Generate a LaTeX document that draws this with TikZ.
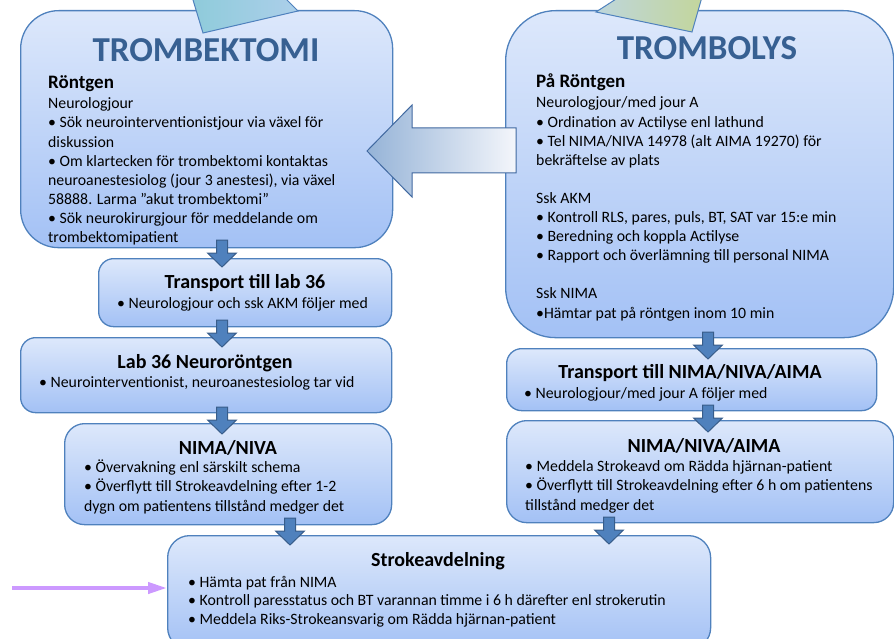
\documentclass[tikz,border=0pt]{standalone}
\usepackage{fontspec}
\setmainfont{Carlito}
\usetikzlibrary{arrows.meta}
\definecolor{boxtop}{RGB}{221,232,251}
\definecolor{boxbot}{RGB}{163,193,245}
\definecolor{boxline}{RGB}{79,129,189}
\definecolor{arrfill}{RGB}{79,129,189}
\definecolor{arrline}{RGB}{56,93,138}
\definecolor{titleblue}{RGB}{55,96,146}
\definecolor{pinkarrow}{RGB}{204,153,255}
\definecolor{bigleft}{RGB}{149,179,215}
\definecolor{bigright}{RGB}{244,246,251}
\definecolor{bigline}{RGB}{65,105,160}
\definecolor{tealA}{RGB}{142,203,218}
\definecolor{tealB}{RGB}{172,207,234}
\definecolor{greenA}{RGB}{190,214,220}
\definecolor{greenB}{RGB}{195,214,155}
\newcommand\bodyfont{\fontsize{15.8}{19.2}\selectfont}
\newcommand\subheadfont{\fontsize{20}{22}\selectfont\bfseries}
\newcommand\headfont{\fontsize{19}{22}\selectfont\bfseries}
\newcommand\bigtitlefont{\fontsize{35}{40}\selectfont\bfseries}
\newcommand\darr[2]{\path[barr] ({#1-5.5},{#2}) -- ({#1+5.5},{#2}) -- ({#1+5.5},{#2+13}) -- ({#1+14.5},{#2+13}) -- ({#1},{#2+27}) -- ({#1-14.5},{#2+13}) -- ({#1-5.5},{#2+13}) -- cycle;}
\tikzset{
  bx/.style={draw=boxline, line width=1.3pt, top color=boxtop, bottom color=boxbot, inner sep=0pt, anchor=north west},
  barr/.style={fill=arrfill, draw=arrline, line width=1pt, line join=miter},
  body/.style={anchor=base west, inner sep=0pt, align=left, font=\bodyfont},
  subhead/.style={anchor=base, inner sep=0pt, font=\subheadfont},
  head/.style={anchor=base west, inner sep=0pt, font=\headfont},
  bigtitle/.style={anchor=base, inner sep=0pt, font=\bigtitlefont, text=titleblue},
}
\begin{document}
\begin{tikzpicture}[x=1pt,y=-1pt]
\useasboundingbox (0,0) rectangle (894,639);
% boxes
\node[bx, rounded corners=38pt, minimum width=372pt, minimum height=237pt] (tbx) at (20,10) {};
\node[bx, rounded corners=50pt, minimum width=388pt, minimum height=327pt] (tlx) at (505,10) {};
\node[bx, rounded corners=15pt, minimum width=293pt, minimum height=68pt] (trl) at (98,258) {};
\node[bx, rounded corners=15pt, minimum width=371pt, minimum height=75pt] (lab) at (20,337) {};
\node[bx, rounded corners=20pt, minimum width=327pt, minimum height=101pt] (niv) at (64,423) {};
\node[bx, rounded corners=15pt, minimum width=370pt, minimum height=62pt] (trr) at (506,348) {};
\node[bx, rounded corners=20pt, minimum width=387pt, minimum height=102pt] (nia) at (506,420) {};
\node[bx, rounded corners=22pt, minimum width=543pt, minimum height=114pt] (stroke) at (167,535) {};
% top decorative shapes
\path[draw=boxline, line width=1pt, left color=tealA, right color=tealB] (190,-10) -- (203,33) -- (298,11) -- (277,-10) -- cycle;
\path[draw=boxline, line width=1pt, left color=greenA, right color=greenB] (630,-10) -- (596,12) -- (692,32) -- (704,-10) -- cycle;
% big left arrow
\path[draw=bigline, line width=1pt, left color=bigleft, right color=bigright] (367,151) -- (412,105) -- (412,128) -- (516,128) -- (516,173) -- (412,173) -- (412,197) -- cycle;
% titles
\node[bigtitle] (tbt) at (206,62) {TROMBEKTOMI};
\node[bigtitle] (tlt) at (707,60) {TROMBOLYS};
% trombektomi box text (anchored at baseline of last line)
\node[head] (tbh) at (48,89) {Röntgen};
\node[body] (tbb) at (48,243) {Neurologjour\\
• Sök neurointerventionistjour via växel för\\
diskussion\\
• Om klartecken för trombektomi kontaktas\\
neuroanestesiolog (jour 3 anestesi), via växel\\
58888. Larma ”akut trombektomi”\\
• Sök neurokirurgjour för meddelande om\\
trombektomipatient};
% trombolys box text
\node[head] (tlh) at (536,88) {På Röntgen};
\node[body, font=\fontsize{15.8}{19.1}\selectfont] (tlb) at (536,318) {Neurologjour/med jour A\\
• Ordination av Actilyse enl lathund\\
• Tel NIMA/NIVA 14978 (alt AIMA 19270) för\\
bekräftelse av plats\\
\mbox{}\\
Ssk AKM\\
• Kontroll RLS, pares, puls, BT, SAT var 15:e min\\
• Beredning och koppla Actilyse\\
• Rapport och överlämning till personal NIMA\\
\mbox{}\\
Ssk NIMA\\
•Hämtar pat på röntgen inom 10 min};
% left column
\node[subhead] (trlt) at (245,288) {Transport till lab 36};
\node[body] (trlb) at (117,308) {• Neurologjour och ssk AKM följer med};
\node[subhead] (labt) at (205,368) {Lab 36 Neuroröntgen};
\node[body] (labb) at (39,387) {• Neurointerventionist, neuroanestesiolog tar vid};
\node[subhead] (nivt) at (228,454) {NIMA/NIVA};
\node[body] (nivb) at (84,511) {• Övervakning enl särskilt schema\\
• Överflytt till Strokeavdelning efter 1-2\\
dygn om patientens tillstånd medger det};
% right column
\node[subhead] (trrt) at (690,378) {Transport till NIMA/NIVA/AIMA};
\node[body] (trrb) at (524,398) {• Neurologjour/med jour A följer med};
\node[subhead] (niat) at (704,452) {NIMA/NIVA/AIMA};
\node[body] (niab) at (525,510) {• Meddela Strokeavd om Rädda hjärnan-patient\\
• Överflytt till Strokeavdelning efter 6 h om patientens\\
tillstånd medger det};
% stroke
\node[subhead] (strt) at (438,566) {Strokeavdelning};
\node[body, font=\fontsize{15.8}{18.5}\selectfont] (strb) at (188,624) {• Hämta pat från NIMA\\
• Kontroll paresstatus och BT varannan timme i 6 h därefter enl strokerutin\\
• Meddela Riks-Strokeansvarig om Rädda hjärnan-patient};
% down block arrows
\darr{222}{240}
\darr{222}{320}
\darr{222}{407}
\darr{290}{518}
\darr{708}{332}
\darr{708}{405}
\darr{609}{517}
% pink arrow
\coordinate (pk) at (12,588);
\draw[pinkarrow, line width=4pt, -{Triangle[length=19pt,width=11pt]}] (pk) -- (pk -| stroke.west);
\end{tikzpicture}
\end{document}
